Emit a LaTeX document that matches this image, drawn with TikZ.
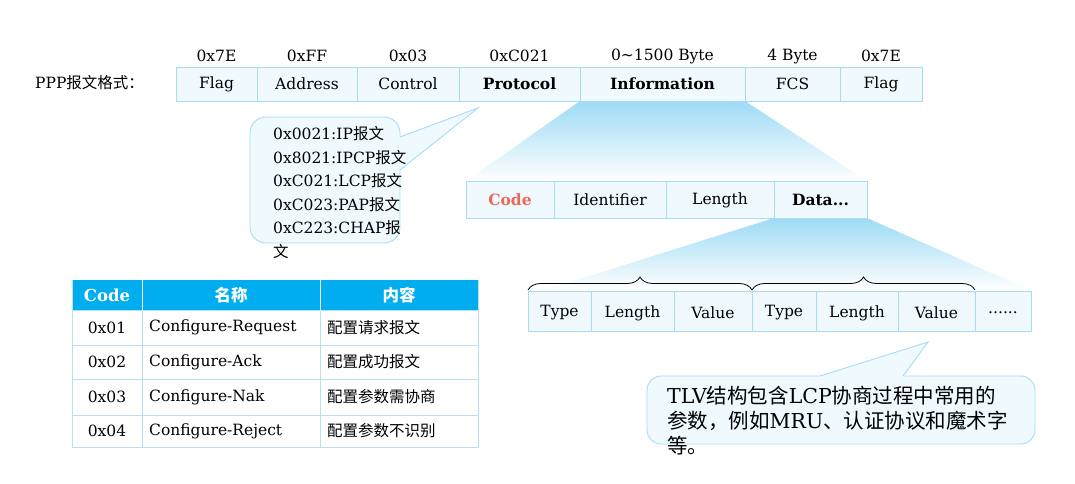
\documentclass[tikz,border=0pt]{standalone}
\usepackage{fontspec}
\setmainfont{DejaVu Serif}
\newfontfamily\cjk{Noto Sans CJK SC}
\usetikzlibrary{decorations.pathreplacing}
\definecolor{cellfill}{HTML}{F0FAFE}
\definecolor{cellline}{HTML}{A6DDF4}
\definecolor{tline}{HTML}{B8E0EE}
\definecolor{thead}{HTML}{00AEEF}
\definecolor{grad}{HTML}{9EDBF5}
\definecolor{codered}{HTML}{E8685A}
\def\mysixdots{......}
\def\mydatatxt{\textbf{Data...}}
\tikzset{
  x=1pt,y=-1pt,
  cell/.style={draw=cellline,fill=cellfill,line width=0.8pt},
  txt/.style={font=\fontsize{15.5}{18}\selectfont,inner sep=0pt},
  tcell/.style={draw=tline,line width=0.8pt},
  callout/.style={draw=cellline,fill=cellfill,line width=0.9pt},
}
\begin{document}
\begin{tikzpicture}
\useasboundingbox (0,0) rectangle (1075,484);
% gradients
\shade[top color=grad,bottom color=white] (580,101) -- (745,101) -- (867,181) -- (466,181) -- cycle;
\shade[top color=grad,bottom color=white] (774,218) -- (867,218) -- (1030,290) -- (545,290) -- cycle;
% top row
\node[txt,anchor=west] (ppp) at (35,83) {PPP{\cjk 报文格式：}};
\foreach \a/\b/\t/\h/\n in {176/257/Flag/0x7E/f1,257/357/Address/0xFF/f2,357/459/Control/0x03/f3,459/580/\textbf{Protocol}/0xC021/f4,580/745/\textbf{Information}/0\textasciitilde1500 Byte/f5,745/840/FCS/4 Byte/f6,840/922/Flag/0x7E/f7}{
  \draw[cell] (\a,67) rectangle (\b,101);
  \node[txt] (\n) at ({(\a+\b)/2},84) {\t};
  \node[txt] (\n h) at ({(\a+\b)/2},56) {\h};
}
% callout 1
\draw[callout,rounded corners=16pt] (400,150) -- (400,243) -- (250,243) -- (250,117) -- (400,117) -- (400,137);
\fill[cellfill] (399.5,136) -- (478,108) -- (399.5,170) -- cycle;
\draw[cellline,line width=0.9pt] (400,137) -- (478,108) -- (400,170);
\foreach \t [count=\i] in {0x0021:IP{\cjk 报文},0x8021:IPCP{\cjk 报文},0xC021:LCP{\cjk 报文},0xC023:PAP{\cjk 报文},0xC223:CHAP{\cjk 报}}{
  \node[txt,anchor=west] (p\i) at (273,110+23.6*\i) {\t};
}
\node[txt,anchor=west] (p6) at (273,252) {\cjk 文};
% second row
\foreach \a/\b/\t/\n in {466/554/\textcolor{codered}{\textbf{Code}}/c1,554/666/Identifier/c2,666/774/Length/c3,774/867/\mydatatxt/c4}{
  \draw[cell] (\a,181) rectangle (\b,218);
  \node[txt] (\n) at ({(\a+\b)/2},200) {\t};
}
% braces
\draw[decorate,decoration={brace,amplitude=13pt},line width=0.8pt] (528,290) -- (752,290);
\draw[decorate,decoration={brace,amplitude=13pt},line width=0.8pt] (752,290) -- (975,290);
% third row
\foreach \a/\b/\t/\n in {528/591/Type/d1,591/674/Length/d2,674/752/Value/d3,752/816/Type/d4,816/898/Length/d5,898/975/Value/d6,975/1031/\mysixdots/d7}{
  \draw[cell] (\a,291) rectangle (\b,331);
  \node[txt] (\n) at ({(\a+\b)/2},313) {\t};
}
% callout 2
\draw[callout,rounded corners=14pt] (903,376) -- (1035,376) -- (1035,444) -- (647,444) -- (647,376) -- (820,376);
\fill[cellfill] (819,376.5) -- (928,342) -- (904,376.5) -- cycle;
\draw[cellline,line width=0.9pt] (820,376) -- (928,342) -- (903,376);
\node[anchor=west,inner sep=0pt,font=\fontsize{20.5}{24}\selectfont] (n1) at (667,396) {TLV{\cjk 结构包含}LCP{\cjk 协商过程中常用的}};
\node[anchor=west,inner sep=0pt,font=\fontsize{20.5}{24}\selectfont] (n2) at (667,421) {{\cjk 参数，例如}MRU{\cjk 、认证协议和魔术字}};
\node[anchor=west,inner sep=0pt,font=\fontsize{20.5}{24}\selectfont] (n3) at (667,446) {\cjk 等。};
% table
\fill[thead] (72,280) rectangle (478,310);
\foreach \x in {142,320} \draw[white,line width=0.8pt] (\x,280) -- (\x,310);
\node[txt,white,font=\fontsize{16.5}{19}\selectfont\bfseries] (h1) at (107,295) {Code};
\node[txt,white,font=\fontsize{16.5}{19}\selectfont\bfseries\cjk] (h2) at (231,295) {名称};
\node[txt,white,font=\fontsize{16.5}{19}\selectfont\bfseries\cjk] (h3) at (399,295) {内容};
\foreach \c/\n/\z/\ya/\yb in {0x01/Configure-Request/配置请求报文/310/345,0x02/Configure-Ack/配置成功报文/345/379,0x03/Configure-Nak/配置参数需协商/379/415,0x04/Configure-Reject/配置参数不识别/415/447}{
  \draw[tcell] (72,\ya) rectangle (142,\yb);
  \draw[tcell] (142,\ya) rectangle (320,\yb);
  \draw[tcell] (320,\ya) rectangle (478,\yb);
  \node[txt] at (107,{(\ya+\yb)/2}) {\c};
  \node[txt,anchor=west] at (149,{(\ya+\yb)/2}) {\n};
  \node[txt,anchor=west,font=\fontsize{15.5}{18}\selectfont\cjk] at (327,{(\ya+\yb)/2}) {\z};
}
\draw[tline,line width=0.8pt] (72,280) -- (72,310) (478,280) -- (478,310);
\end{tikzpicture}
\end{document}
